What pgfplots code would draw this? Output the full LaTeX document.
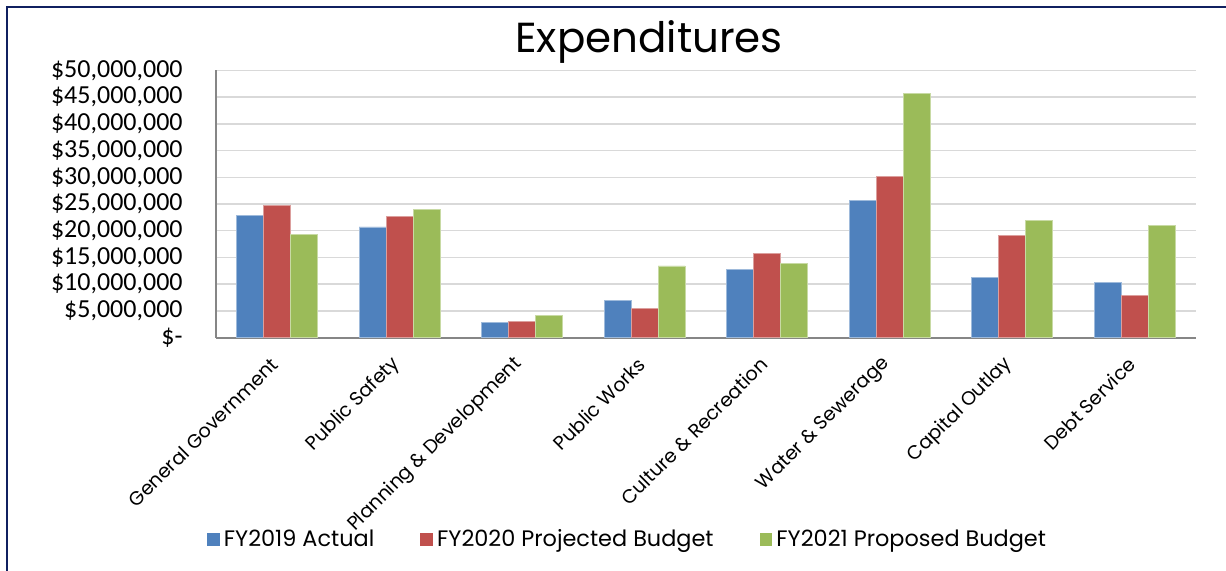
\documentclass[border=0pt]{standalone}
\usepackage{pgfplots}
\pgfplotsset{compat=1.18}
\usepackage{fontspec}
\setmainfont{Poppins}
\newfontfamily\tw{Poppins}
\newfontfamily\calibri{Carlito}

\definecolor{xlblue}{HTML}{4F81BD}
\definecolor{xlred}{HTML}{C0504D}
\definecolor{xlgreen}{HTML}{9BBB59}
\definecolor{gridgray}{HTML}{D9D9D9}
\definecolor{axgray}{HTML}{868686}
\definecolor{framenavy}{RGB}{16,32,96}

\begin{document}
\begin{tikzpicture}
\useasboundingbox (0,0) rectangle (613pt,-285.5pt);
\begin{axis}[
    at={(108pt,-168.75pt)}, anchor=south west,
    scale only axis,
    width=490pt, height=133.5pt,
    ybar=0pt, bar width=13.5pt,
    xmin=-0.5, xmax=7.5,
    ymin=0, ymax=50000000,
    enlargelimits=false,
    axis lines*=left,
    axis line style={axgray, line width=1pt},
    major tick length=0pt,
    ymajorgrids,
    grid style={gridgray, line width=0.75pt},
    scaled y ticks=false,
    ytick={0,5000000,10000000,15000000,20000000,25000000,30000000,35000000,40000000,45000000,50000000},
    yticklabels={{\$-},{\$5,000,000},{\$10,000,000},{\$15,000,000},{\$20,000,000},{\$25,000,000},{\$30,000,000},{\$35,000,000},{\$40,000,000},{\$45,000,000},{\$50,000,000}},
    yticklabel style={font=\calibri\fontsize{13}{13}\selectfont, anchor=east, xshift=-14pt, inner sep=2.5pt},
    xtick={0,1,2,3,4,5,6,7},
    xticklabels={General Government,Public Safety,Planning \& Development,Public Works,Culture \& Recreation,Water \& Sewerage,Capital Outlay,Debt Service},
    xticklabel style={font=\tw\fontsize{9.6}{9.6}\selectfont, xshift=1pt, yshift=-9.3pt, rotate=45, anchor=east},
    title={Expenditures},
    title style={font=\tw\fontsize{21}{21}\selectfont, at={(0.442,1.022)}, anchor=base, inner sep=0pt},
    legend style={at={(0.421,-0.758)}, anchor=center, draw=none, fill=none,
        font=\tw\fontsize{11.2}{11.2}\selectfont,
        legend columns=3,
        /tikz/every even column/.append style={column sep=21pt}},
    legend image code/.code={\fill[#1,draw=none] (0pt,-3.2pt) rectangle (6.4pt,3.2pt);},
    clip=false,
]
\addplot[fill=xlblue, draw=xlblue!55!white, line width=0.4pt] coordinates {
    (0,22800000) (1,20700000) (2,2760000) (3,6950000) (4,12800000) (5,25600000) (6,11200000) (7,10300000)
};
\addplot[fill=xlred, draw=xlred!55!white, line width=0.4pt] coordinates {
    (0,24800000) (1,22700000) (2,2950000) (3,5500000) (4,15700000) (5,30200000) (6,19100000) (7,7800000)
};
\addplot[fill=xlgreen, draw=xlgreen!55!white, line width=0.4pt] coordinates {
    (0,19300000) (1,24000000) (2,4200000) (3,13400000) (4,13800000) (5,45700000) (6,22000000) (7,20900000)
};
\legend{FY2019 Actual,FY2020 Projected Budget,FY2021 Proposed Budget}
\end{axis}
\draw[framenavy, line width=1.3pt] (3.5pt,-285.5pt) -- (3.5pt,-3.5pt) -- (613pt,-3.5pt);
\end{tikzpicture}
\end{document}
